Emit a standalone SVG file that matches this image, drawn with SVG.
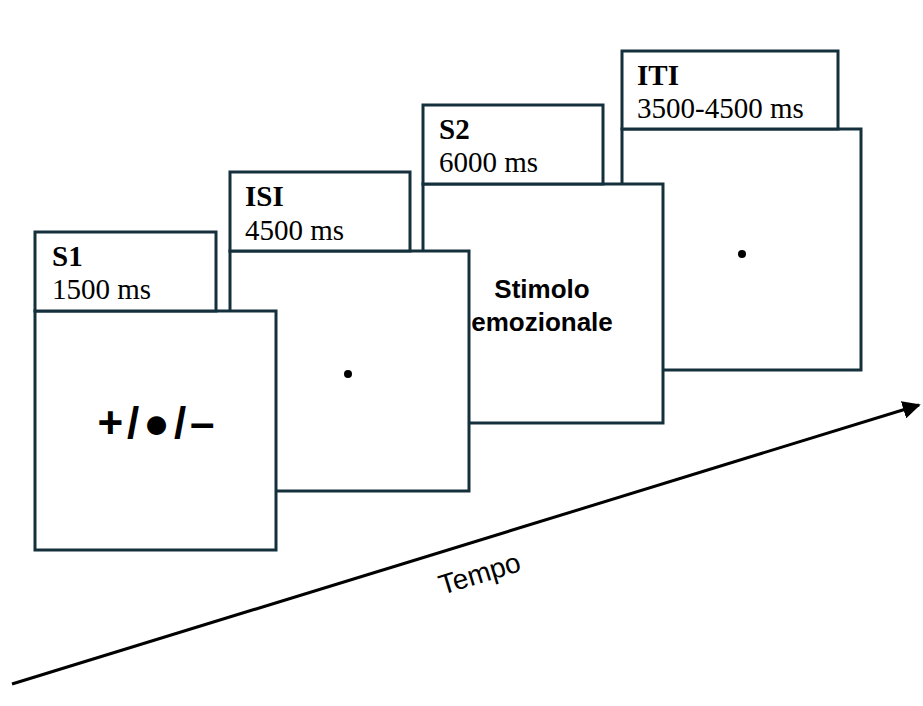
<svg xmlns="http://www.w3.org/2000/svg" width="923" height="706" viewBox="0 0 923 706">
  <style>
    .frame { fill: #ffffff; stroke: #14303c; stroke-width: 3; }
    .lbl { font-family: "Liberation Serif", "Times New Roman", serif; font-size: 29px; fill: #000; }
    .lbl-b { font-weight: bold; }
    .stim { font-family: "Liberation Sans", Arial, sans-serif; font-weight: bold; fill: #000; text-anchor: middle; }
    .fix { fill: #000; }
  </style>
  <defs>
    <marker id="arrowhead" viewBox="0 0 10 10" refX="9" refY="5" markerWidth="6" markerHeight="6" orient="auto" markerUnits="strokeWidth">
      <path d="M0,0 L10,5 L0,10 z" fill="#000"/>
    </marker>
  </defs>

  <rect width="923" height="706" fill="#ffffff"/>

  <!-- Time axis -->
  <g id="connectors">
    <line x1="12" y1="684" x2="919" y2="405" stroke="#000" stroke-width="3" marker-end="url(#arrowhead)"/>
    <text x="480" y="583" transform="rotate(-17 480 575)" font-family="Liberation Sans, Arial, sans-serif" font-size="28" text-anchor="middle" fill="#000">Tempo</text>
  </g>

  <!-- ITI: inter-trial interval (drawn first, furthest back) -->
  <g id="iti">
    <rect class="frame" x="622" y="129" width="239" height="241"/>
    <rect class="frame" x="622" y="51" width="216" height="78"/>
    <text class="lbl lbl-b" x="637" y="85">ITI</text>
    <text class="lbl" x="637" y="118">3500-4500 ms</text>
    <circle class="fix" cx="742" cy="254" r="4"/>
  </g>

  <!-- S2: emotional stimulus -->
  <g id="s2">
    <rect class="frame" x="423" y="184" width="240" height="239"/>
    <rect class="frame" x="423" y="105" width="180" height="79"/>
    <text class="lbl lbl-b" x="439" y="139">S2</text>
    <text class="lbl" x="439" y="172">6000 ms</text>
    <text class="stim" x="542" y="298" font-size="26">Stimolo</text>
    <text class="stim" x="542" y="331" font-size="26">emozionale</text>
  </g>

  <!-- ISI: inter-stimulus interval -->
  <g id="isi">
    <rect class="frame" x="230" y="251" width="239" height="240"/>
    <rect class="frame" x="230" y="172" width="180" height="79"/>
    <text class="lbl lbl-b" x="245" y="206">ISI</text>
    <text class="lbl" x="245" y="240">4500 ms</text>
    <circle class="fix" cx="348" cy="374" r="4"/>
  </g>

  <!-- S1: cue stimulus (front) -->
  <g id="s1">
    <rect class="frame" x="35" y="311" width="241" height="239"/>
    <rect class="frame" x="35" y="232" width="181" height="79"/>
    <text class="lbl lbl-b" x="52" y="266">S1</text>
    <text class="lbl" x="52" y="299">1500 ms</text>
    <text class="stim" x="158" y="438" font-size="44" letter-spacing="4">+/●/–</text>
  </g>
</svg>
